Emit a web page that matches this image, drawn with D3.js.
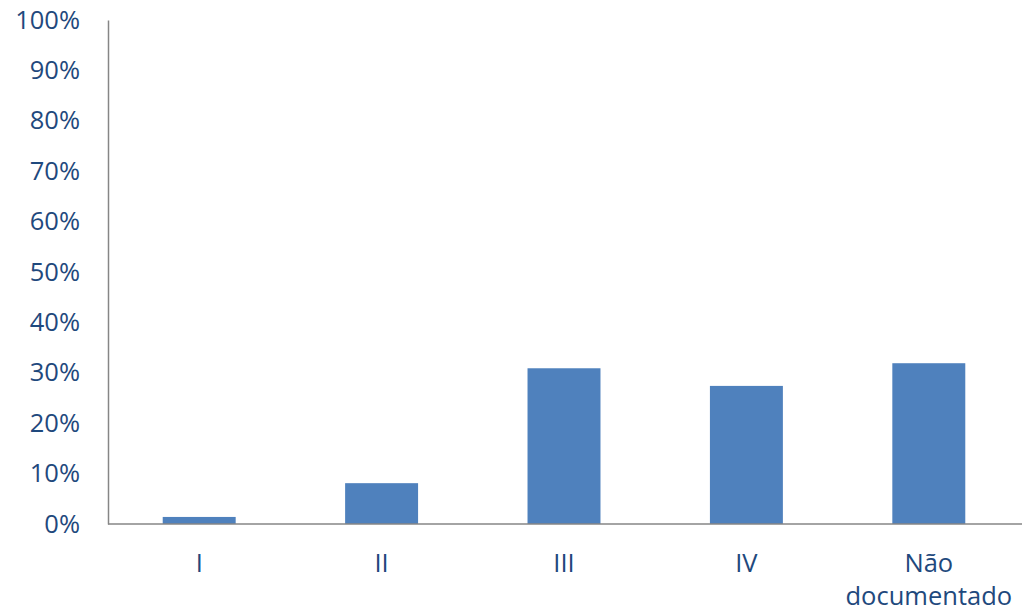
<!DOCTYPE html>
<html><head><meta charset="utf-8">
<script src="https://cdn.jsdelivr.net/npm/d3@7"></script>
<style>body{margin:0;background:#fff}svg{display:block}</style>
</head><body>
<script>
const categories = ["I", "II", "III", "IV", "Não documentado"];
const values = [0.014, 0.081, 0.309, 0.274, 0.319];
const yTicks = [0, 0.1, 0.2, 0.3, 0.4, 0.5, 0.6, 0.7, 0.8, 0.9, 1.0];

const W = 1022, H = 612;
const svg = d3.select("body").append("svg").attr("width", W).attr("height", H);
const x = d3.scaleBand().domain(categories).range([108, 1020]).paddingInner(0.6).paddingOuter(0.3);
const y = d3.scaleLinear().domain([0, 1]).range([524, 20]);
const font = "'Open Sans', sans-serif";
const textColor = "#1F497D";
const fs = 25.5;

svg.append("g").selectAll("rect").data(values).join("rect")
  .attr("x", (d, i) => x(categories[i]))
  .attr("width", x.bandwidth())
  .attr("y", d => y(d))
  .attr("height", d => y(0) - y(d))
  .attr("fill", "#4F81BD");

const yAxis = svg.append("g").attr("transform", "translate(108,0)")
  .call(d3.axisLeft(y).tickValues(yTicks).tickFormat(d3.format(".0%")).tickSize(0).tickPadding(28));
yAxis.select(".domain").attr("stroke", "#868686").attr("stroke-width", 1.5);
yAxis.selectAll("text").attr("font-family", font).attr("font-size", fs).attr("fill", textColor);

const xAxis = svg.append("g").attr("transform", "translate(0,524)")
  .call(d3.axisBottom(x).tickSize(0).tickPadding(0).tickFormat(""));
xAxis.select(".domain").attr("stroke", "#868686").attr("stroke-width", 1.5).attr("d", "M108,0H1022");
xAxis.selectAll(".tick").each(function(d) {
  const words = d === "Não documentado" ? ["Não", "documentado"] : [d];
  const t = d3.select(this).append("text").attr("font-family", font).attr("font-size", fs)
    .attr("fill", textColor).attr("text-anchor", "middle");
  words.forEach((w, i) => t.append("tspan").attr("x", 0).attr("y", 48 + i * 33).text(w));
});
</script>
</body></html>
